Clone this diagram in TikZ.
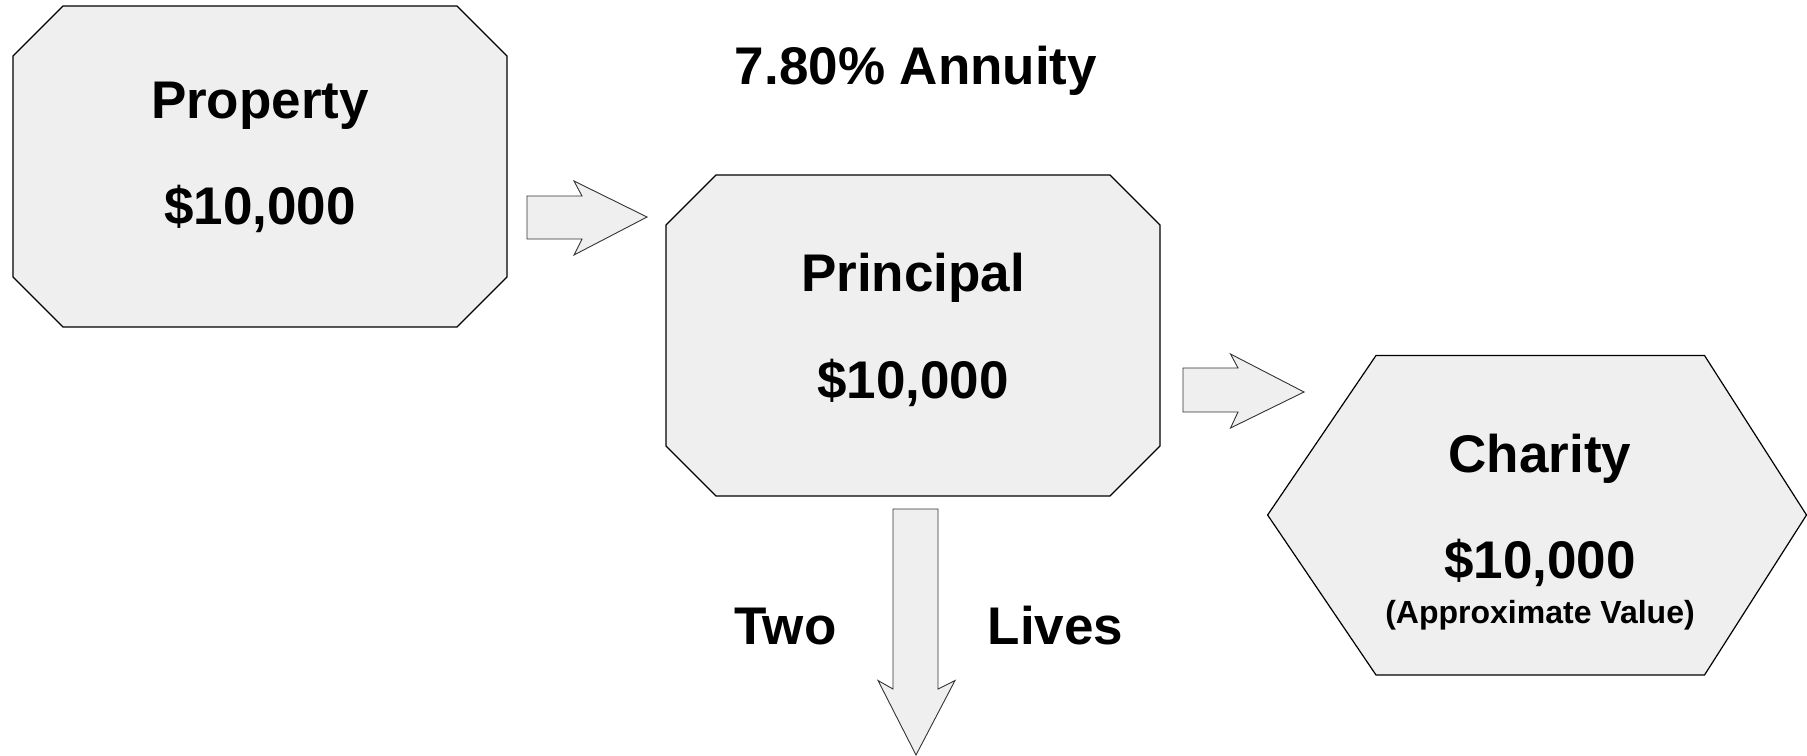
\documentclass[tikz,border=0pt]{standalone}
\usepackage{fontspec}
\setmainfont{Liberation Sans}
\definecolor{boxfill}{HTML}{EFEFEF}
\begin{document}
\begin{tikzpicture}[x=1pt,y=-1pt,
  boxshape/.style={draw=black,fill=boxfill,line width=1.2pt,line join=miter},
  blockarrow/.style={draw=black!80,fill=boxfill,line width=0.9pt,line join=miter},
  big/.style={anchor=base,inner sep=0pt,font=\fontsize{53}{60}\selectfont\bfseries},
  small/.style={anchor=base,inner sep=0pt,font=\fontsize{32}{38}\selectfont\bfseries}]
\useasboundingbox (0,0) rectangle (1807,755);
% boxes
\draw[boxshape] (63,6) -- (457,6) -- (507,56) -- (507,277) -- (457,327) -- (63,327) -- (13,277) -- (13,56) -- cycle;
\draw[boxshape] (716,175) -- (1110,175) -- (1160,225) -- (1160,446) -- (1110,496) -- (716,496) -- (666,446) -- (666,225) -- cycle;
\draw[boxshape] (1267.6,515) -- (1376,355.5) -- (1704.5,355.5) -- (1806.5,515) -- (1704.5,675) -- (1376,675) -- cycle;
% block arrows
\draw[blockarrow] (527,196) -- (582,196) -- (574,181) -- (647,217) -- (574,255) -- (582,239) -- (527,239) -- cycle;
\draw[blockarrow] (1183,368) -- (1238,368) -- (1230.5,354) -- (1304,392) -- (1230.5,428) -- (1238,412) -- (1183,412) -- cycle;
\draw[blockarrow] (893,509) -- (938,509) -- (938,689) -- (955,680.5) -- (916,755) -- (878,680.5) -- (893,689) -- cycle;
% texts
\node[big] (annuity) at (916,84) {7.80\% Annuity};
\node[big] (prop) at (260,118) {Property};
\node[big] (propval) at (260,224) {\$10,000};
\node[big] (princ) at (913,291.5) {Principal};
\node[big] (princval) at (913,398) {\$10,000};
\node[big] (char) at (1540,472) {Charity};
\node[big] (charval) at (1540,578) {\$10,000};
\node[small] (approx) at (1540,623) {(Approximate Value)};
\node[big] (two) at (785.5,644) {Two};
\node[big] (lives) at (1055.5,644) {Lives};
\end{tikzpicture}
\end{document}
